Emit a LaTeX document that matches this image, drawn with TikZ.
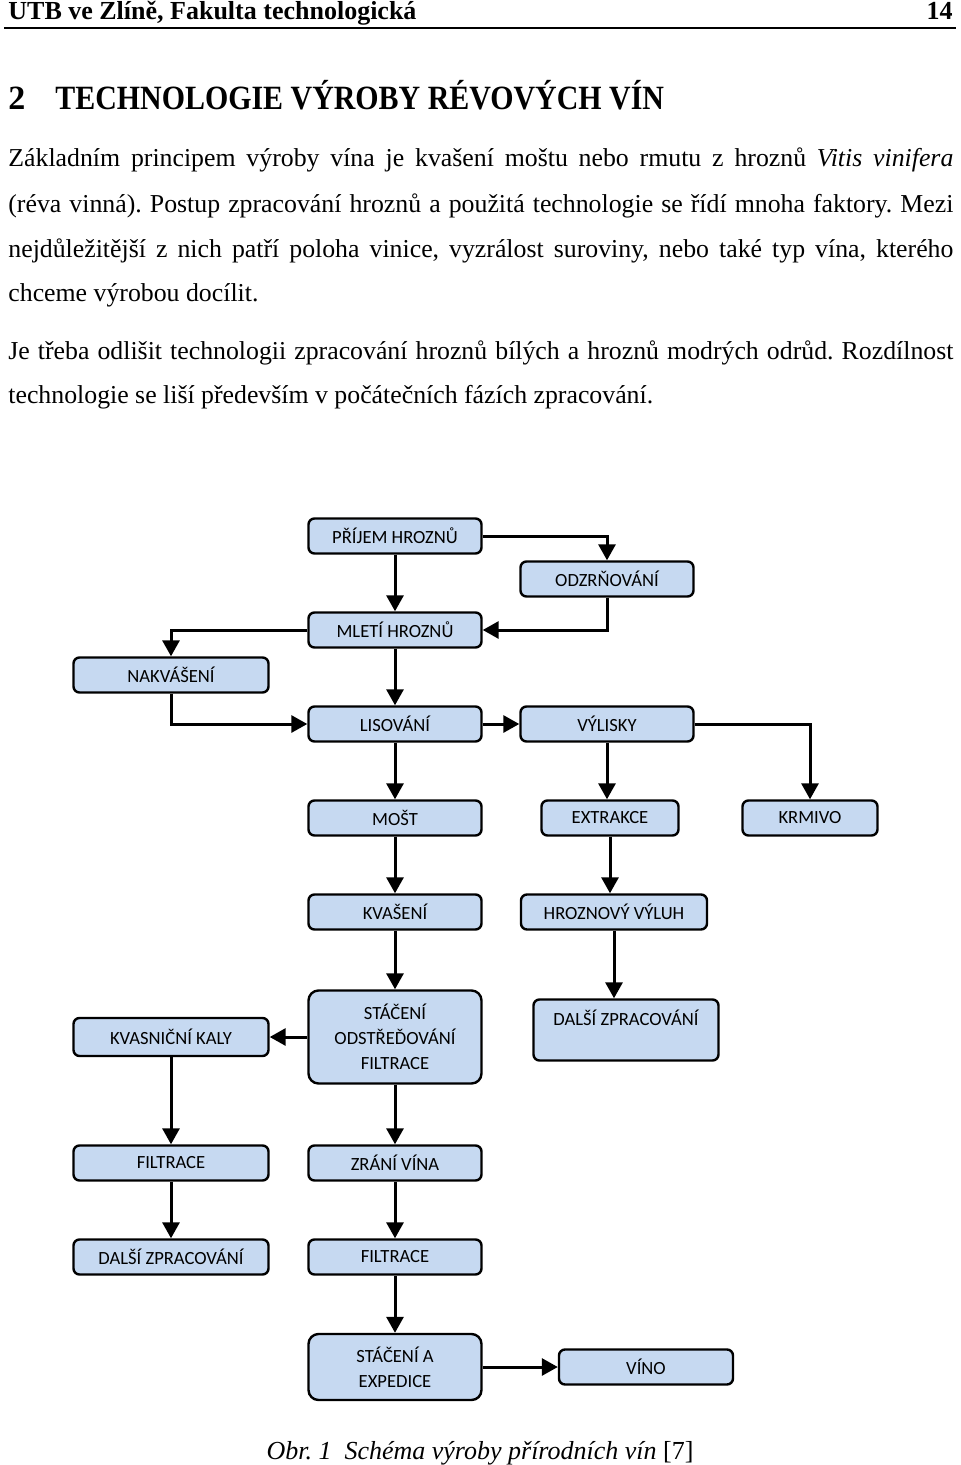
\documentclass[tikz,border=0pt]{standalone}
\usepackage{fontspec}
\setmainfont{Liberation Serif}
\newfontfamily\boxfont{Carlito}
\usepackage{xcolor}
\usepackage{tikz}
\usetikzlibrary{arrows.meta}
\frenchspacing
\definecolor{boxblue}{HTML}{C6D9F1}
\tikzstyle{stage} = [rectangle, rounded corners=3pt, minimum width=86.5pt, minimum height=17.5pt, text centered, draw=black, line width=1.2pt, fill=boxblue, font=\boxfont\fontsize{9.3}{12.5}\selectfont, inner sep=1pt]
\tikzstyle{side} = [stage, minimum width=97.5pt]
\tikzstyle{arrow} = [line width=1.5pt, -{Triangle[length=8pt, width=8.5pt]}]
\tikzstyle{textline} = [anchor=base west, inner sep=0pt, font=\fontsize{12.9}{22.5}\selectfont]

\begin{document}
\begin{tikzpicture}[x=0.5pt, y=-0.5pt, node distance=47pt]
			\useasboundingbox (0,0) rectangle (960,1465);

			% page head
			\node (head) [anchor=base west, inner sep=0pt, font=\bfseries\fontsize{13}{15}\selectfont] at (8,20) {UTB ve Zlíně, Fakulta technologická};
			\node (page) [anchor=base east, inner sep=0pt, font=\bfseries\fontsize{13}{15}\selectfont] at (953,20) {14};
			\draw [line width=1pt] (4,28) -- (956,28);

			\node (num) [anchor=base west, inner sep=0pt, font=\bfseries\fontsize{17}{20}\selectfont] at (8,110) {2};
			\node (title) [anchor=base west, inner sep=0pt, font=\bfseries\fontsize{17}{20}\selectfont] at (55,110) {\scalebox{0.88}[1]{TECHNOLOGIE VÝROBY RÉVOVÝCH VÍN}};

			% text
			\node (line1) [textline] at (8,167) {\makebox[472.5pt][s]{Základním principem výroby vína je kvašení moštu nebo rmutu z~hroznů \textit{Vitis vinifera}}};
			\node (line2) [textline] at (8,213) {\makebox[472.5pt][s]{(réva vinná). Postup zpracování hroznů a použitá technologie se řídí mnoha faktory. Mezi}};
			\node (line3) [textline] at (8,258) {\makebox[472.5pt][s]{nejdůležitější z~nich patří poloha vinice, vyzrálost suroviny, nebo také typ vína, kterého}};
			\node (line4) [textline] at (8,302) {chceme výrobou docílit.};
			\node (line5) [textline] at (8,359) {\makebox[472.5pt][s]{Je třeba odlišit technologii zpracování hroznů bílých a hroznů modrých odrůd. Rozdílnost}};
			\node (line6) [textline] at (8,403) {technologie se liší především v~počátečních fázích zpracování.};

			% scheme
			\node (prijem) [stage] at (395,536) {PŘÍJEM HROZNŮ};
			\node (mleti) [stage, below of=prijem] {MLETÍ HROZNŮ};
			\node (odzrnovani) [stage, right of=prijem, xshift=59pt, yshift=-21.5pt] {ODZRŇOVÁNÍ};
			\node (lisovani) [stage, below of=mleti] {LISOVÁNÍ};
			\node (nakvaseni) [side, left of=lisovani, xshift=-65pt, yshift=24.5pt] {NAKVÁŠENÍ};
			\node (vylisky) [stage, right of=lisovani, xshift=59pt] {VÝLISKY};
			\node (most) [stage, below of=lisovani] {MOŠT};
			\node (extrakce) [stage, minimum width=68.5pt, below of=vylisky, xshift=1.5pt] {EXTRAKCE};
			\node (krmivo) [stage, minimum width=67.5pt, right of=extrakce, xshift=53pt] {KRMIVO};
			\node (kvaseni) [stage, below of=most] {KVAŠENÍ};
			\node (vyluh) [stage, minimum width=93pt, below of=extrakce, xshift=2pt] {HROZNOVÝ VÝLUH};
			\node (staceni) [stage, minimum height=46.5pt, rounded corners=5pt, align=center, below of=kvaseni, yshift=-15.5pt] {STÁČENÍ\\ODSTŘEĎOVÁNÍ\\FILTRACE};
			\node (dalsi1) [stage, minimum width=92.5pt, minimum height=30.5pt, align=center, below of=vyluh, xshift=6pt, yshift=-12pt] {DALŠÍ ZPRACOVÁNÍ\\\mbox{}};
			\node (kaly) [side, minimum height=19pt, left of=staceni, xshift=-65pt] {KVASNIČNÍ KALY};
			\node (filtrace1) [side, below of=kaly, yshift=-16pt] {FILTRACE};
			\node (dalsi2) [side, below of=filtrace1] {DALŠÍ ZPRACOVÁNÍ};
			\node (zrani) [stage, below of=staceni, yshift=-16pt] {ZRÁNÍ VÍNA};
			\node (filtrace2) [stage, below of=zrani] {FILTRACE};
			\node (expedice) [stage, minimum height=33pt, rounded corners=5pt, align=center, below of=filtrace2, yshift=-8pt] {STÁČENÍ A\\EXPEDICE};
			\node (vino) [stage, minimum width=87pt, right of=expedice, xshift=78.5pt] {VÍNO};

			\draw [arrow] (prijem) -- (mleti);
			\draw [arrow] (prijem) -| (odzrnovani);
			\draw [arrow] (odzrnovani) |- (mleti);
			\draw [arrow] (mleti) -| (nakvaseni);
			\draw [arrow] (mleti) -- (lisovani);
			\draw [arrow] (nakvaseni) |- (lisovani);
			\draw [arrow] (lisovani) -- (vylisky);
			\draw [arrow] (vylisky) -| (krmivo);
			\draw [arrow] (vylisky) -- (vylisky |- extrakce.north);
			\draw [arrow] (extrakce) -- (extrakce |- vyluh.north);
			\draw [arrow] (vyluh) -- (vyluh |- dalsi1.north);
			\draw [arrow] (lisovani) -- (most);
			\draw [arrow] (most) -- (kvaseni);
			\draw [arrow] (kvaseni) -- (staceni);
			\draw [arrow] (staceni) -- (kaly);
			\draw [arrow] (kaly) -- (filtrace1);
			\draw [arrow] (filtrace1) -- (dalsi2);
			\draw [arrow] (staceni) -- (zrani);
			\draw [arrow] (zrani) -- (filtrace2);
			\draw [arrow] (filtrace2) -- (expedice);
			\draw [arrow] (expedice) -- (vino);

			\node (caption) [anchor=base, inner sep=0pt, font=\fontsize{13}{15}\selectfont] at (480,1459) {\textit{Obr. 1\ \ Schéma výroby přírodních vín} [7]};
		\end{tikzpicture}
\end{document}
